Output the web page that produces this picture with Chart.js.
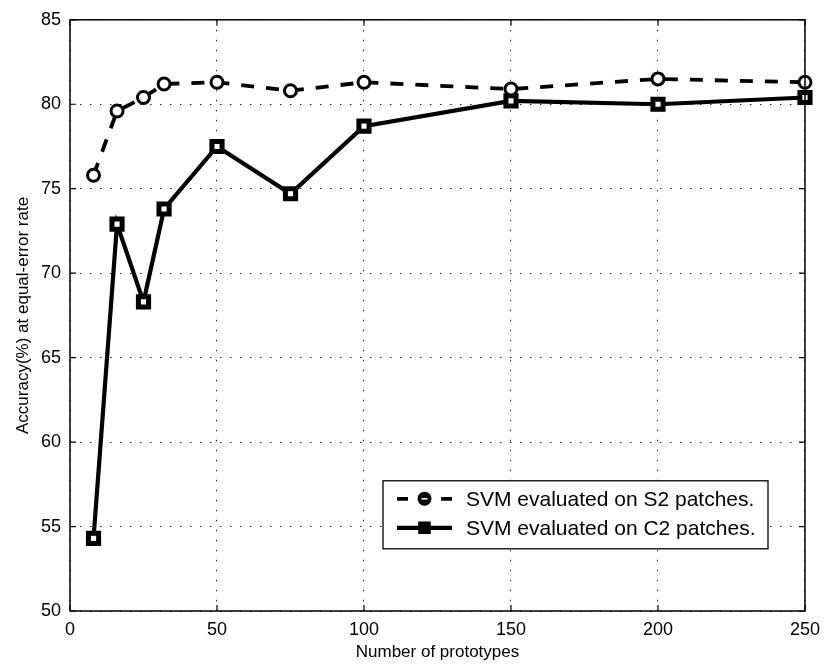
<!DOCTYPE html>
<html>
<head>
<meta charset="utf-8">
<script src="https://cdn.jsdelivr.net/npm/chart.js@4.4.1/dist/chart.umd.min.js"></script>
<style>
  html, body { margin: 0; padding: 0; background: #fff; }
  #wrap { width: 828px; height: 665px; }
</style>
</head>
<body>
<div id="wrap"><canvas id="accChart" width="828" height="665"></canvas></div>
<script>
const prototypes = [8, 16, 25, 32, 50, 75, 100, 150, 200, 250];
const s2Accuracy = [75.8, 79.6, 80.4, 81.2, 81.3, 80.8, 81.3, 80.9, 81.5, 81.3];
const c2Accuracy = [54.3, 72.9, 68.3, 73.8, 77.5, 74.7, 78.7, 80.2, 80.0, 80.4];
const seriesNames = ["SVM evaluated on S2 patches.", "SVM evaluated on C2 patches."];

const FONT = "'Liberation Sans', Arial, Helvetica, sans-serif";

const toPoints = (ys) => prototypes.map((x, i) => ({ x: x, y: ys[i] }));

// frame around the plot, inward tick marks, and the boxed legend
const framePlugin = {
    id: "frame",
    afterDatasetsDraw(chart) {
        const { ctx, chartArea: a, scales } = chart;
        ctx.save();
        ctx.strokeStyle = "#000";
        ctx.lineWidth = 1.5;
        ctx.strokeRect(a.left, a.top, a.right - a.left, a.bottom - a.top);

        ctx.lineWidth = 1.2;
        const tl = 6;
        ctx.beginPath();
        scales.x.ticks.forEach(t => {
            const px = scales.x.getPixelForValue(t.value);
            ctx.moveTo(px, a.bottom); ctx.lineTo(px, a.bottom - tl);
            ctx.moveTo(px, a.top); ctx.lineTo(px, a.top + tl);
        });
        scales.y.ticks.forEach(t => {
            const py = scales.y.getPixelForValue(t.value);
            ctx.moveTo(a.left, py); ctx.lineTo(a.left + tl, py);
            ctx.moveTo(a.right, py); ctx.lineTo(a.right - tl, py);
        });
        ctx.stroke();
        ctx.restore();
    },
    afterDraw(chart) {
        const { ctx, chartArea: a } = chart;
        const bx = a.left + 313, by = a.top + 461, bw = 385, bh = 68;
        ctx.save();
        ctx.fillStyle = "#fff";
        ctx.fillRect(bx, by, bw, bh);
        ctx.strokeStyle = "#000";
        ctx.lineWidth = 1.3;
        ctx.strokeRect(bx, by, bw, bh);

        chart.data.datasets.forEach((ds, i) => {
            const cy = by + 18 + i * 29;
            const x0 = bx + 14, x1 = bx + 69, xm = (x0 + x1) / 2;
            ctx.strokeStyle = "#000";
            ctx.lineWidth = ds.borderWidth;
            ctx.beginPath();
            if (ds.borderDash) {
                ctx.moveTo(x0, cy); ctx.lineTo(x0 + 11, cy);
                ctx.moveTo(x1 - 11, cy); ctx.lineTo(x1, cy);
            } else {
                ctx.moveTo(x0, cy); ctx.lineTo(x1, cy);
            }
            ctx.stroke();
            // legend markers print almost solid
            ctx.lineWidth = 2;
            ctx.fillStyle = "#000";
            Chart.helpers.drawPoint(ctx, {
                pointStyle: ds.pointStyle,
                radius: ds.pointStyle === "rect" ? 7.5 : 6,
                borderWidth: 2,
                rotation: 0
            }, xm, cy);
            if (ds.pointStyle === "circle") {
                ctx.strokeStyle = "#fff";
                ctx.lineWidth = 1.5;
                ctx.beginPath();
                ctx.moveTo(xm - 3, cy); ctx.lineTo(xm + 3, cy);
                ctx.stroke();
            }
            ctx.fillStyle = "#000";
            ctx.font = "21px " + FONT;
            ctx.textBaseline = "middle";
            ctx.textAlign = "left";
            ctx.fillText(ds.label, bx + 83, cy + 1);
        });
        ctx.restore();
    }
};

new Chart(document.getElementById("accChart"), {
    type: "line",
    plugins: [framePlugin],
    data: {
        datasets: [
            {
                label: seriesNames[0],
                data: toPoints(s2Accuracy),
                borderColor: "#000",
                borderWidth: 3.8,
                borderDash: [13, 12],
                pointStyle: "circle",
                pointRadius: 6,
                pointBorderWidth: 3,
                pointBorderColor: "#000",
                pointBackgroundColor: "#fff",
                clip: false
            },
            {
                label: seriesNames[1],
                data: toPoints(c2Accuracy),
                borderColor: "#000",
                borderWidth: 4.2,
                pointStyle: "rect",
                pointRadius: 7.2,
                pointBorderWidth: 5,
                pointBorderColor: "#000",
                pointBackgroundColor: "#fff",
                clip: false
            }
        ]
    },
    options: {
        responsive: false,
        animation: false,
        devicePixelRatio: 1,
        layout: { padding: { top: 19, right: 21, left: 0, bottom: 0 } },
        plugins: {
            legend: { display: false },
            tooltip: { enabled: false }
        },
        elements: { line: { tension: 0 } },
        scales: {
            x: {
                type: "linear",
                min: 0,
                max: 250,
                ticks: {
                    stepSize: 50,
                    color: "#000",
                    padding: 8,
                    maxRotation: 0,
                    font: { family: FONT, size: 18 }
                },
                grid: {
                    color: "#222",
                    lineWidth: 1,
                    drawTicks: false
                },
                border: { display: false, dash: [1.5, 8.5] },
                title: {
                    display: true,
                    text: "Number of prototypes",
                    color: "#000",
                    padding: { top: 0, bottom: 2 },
                    font: { family: FONT, size: 17 }
                },
                afterFit(scale) { scale.height = 54; }
            },
            y: {
                min: 50,
                max: 85,
                ticks: {
                    stepSize: 5,
                    color: "#000",
                    padding: 9,
                    font: { family: FONT, size: 18 }
                },
                grid: {
                    color: "#222",
                    lineWidth: 1,
                    drawTicks: false
                },
                border: { display: false, dash: [1.5, 8.5] },
                title: {
                    display: true,
                    text: "Accuracy(%) at equal-error rate",
                    color: "#000",
                    padding: { top: 13, bottom: 0 },
                    font: { family: FONT, size: 17 }
                },
                afterFit(scale) { scale.width = 70; }
            }
        }
    }
});
</script>
</body>
</html>
